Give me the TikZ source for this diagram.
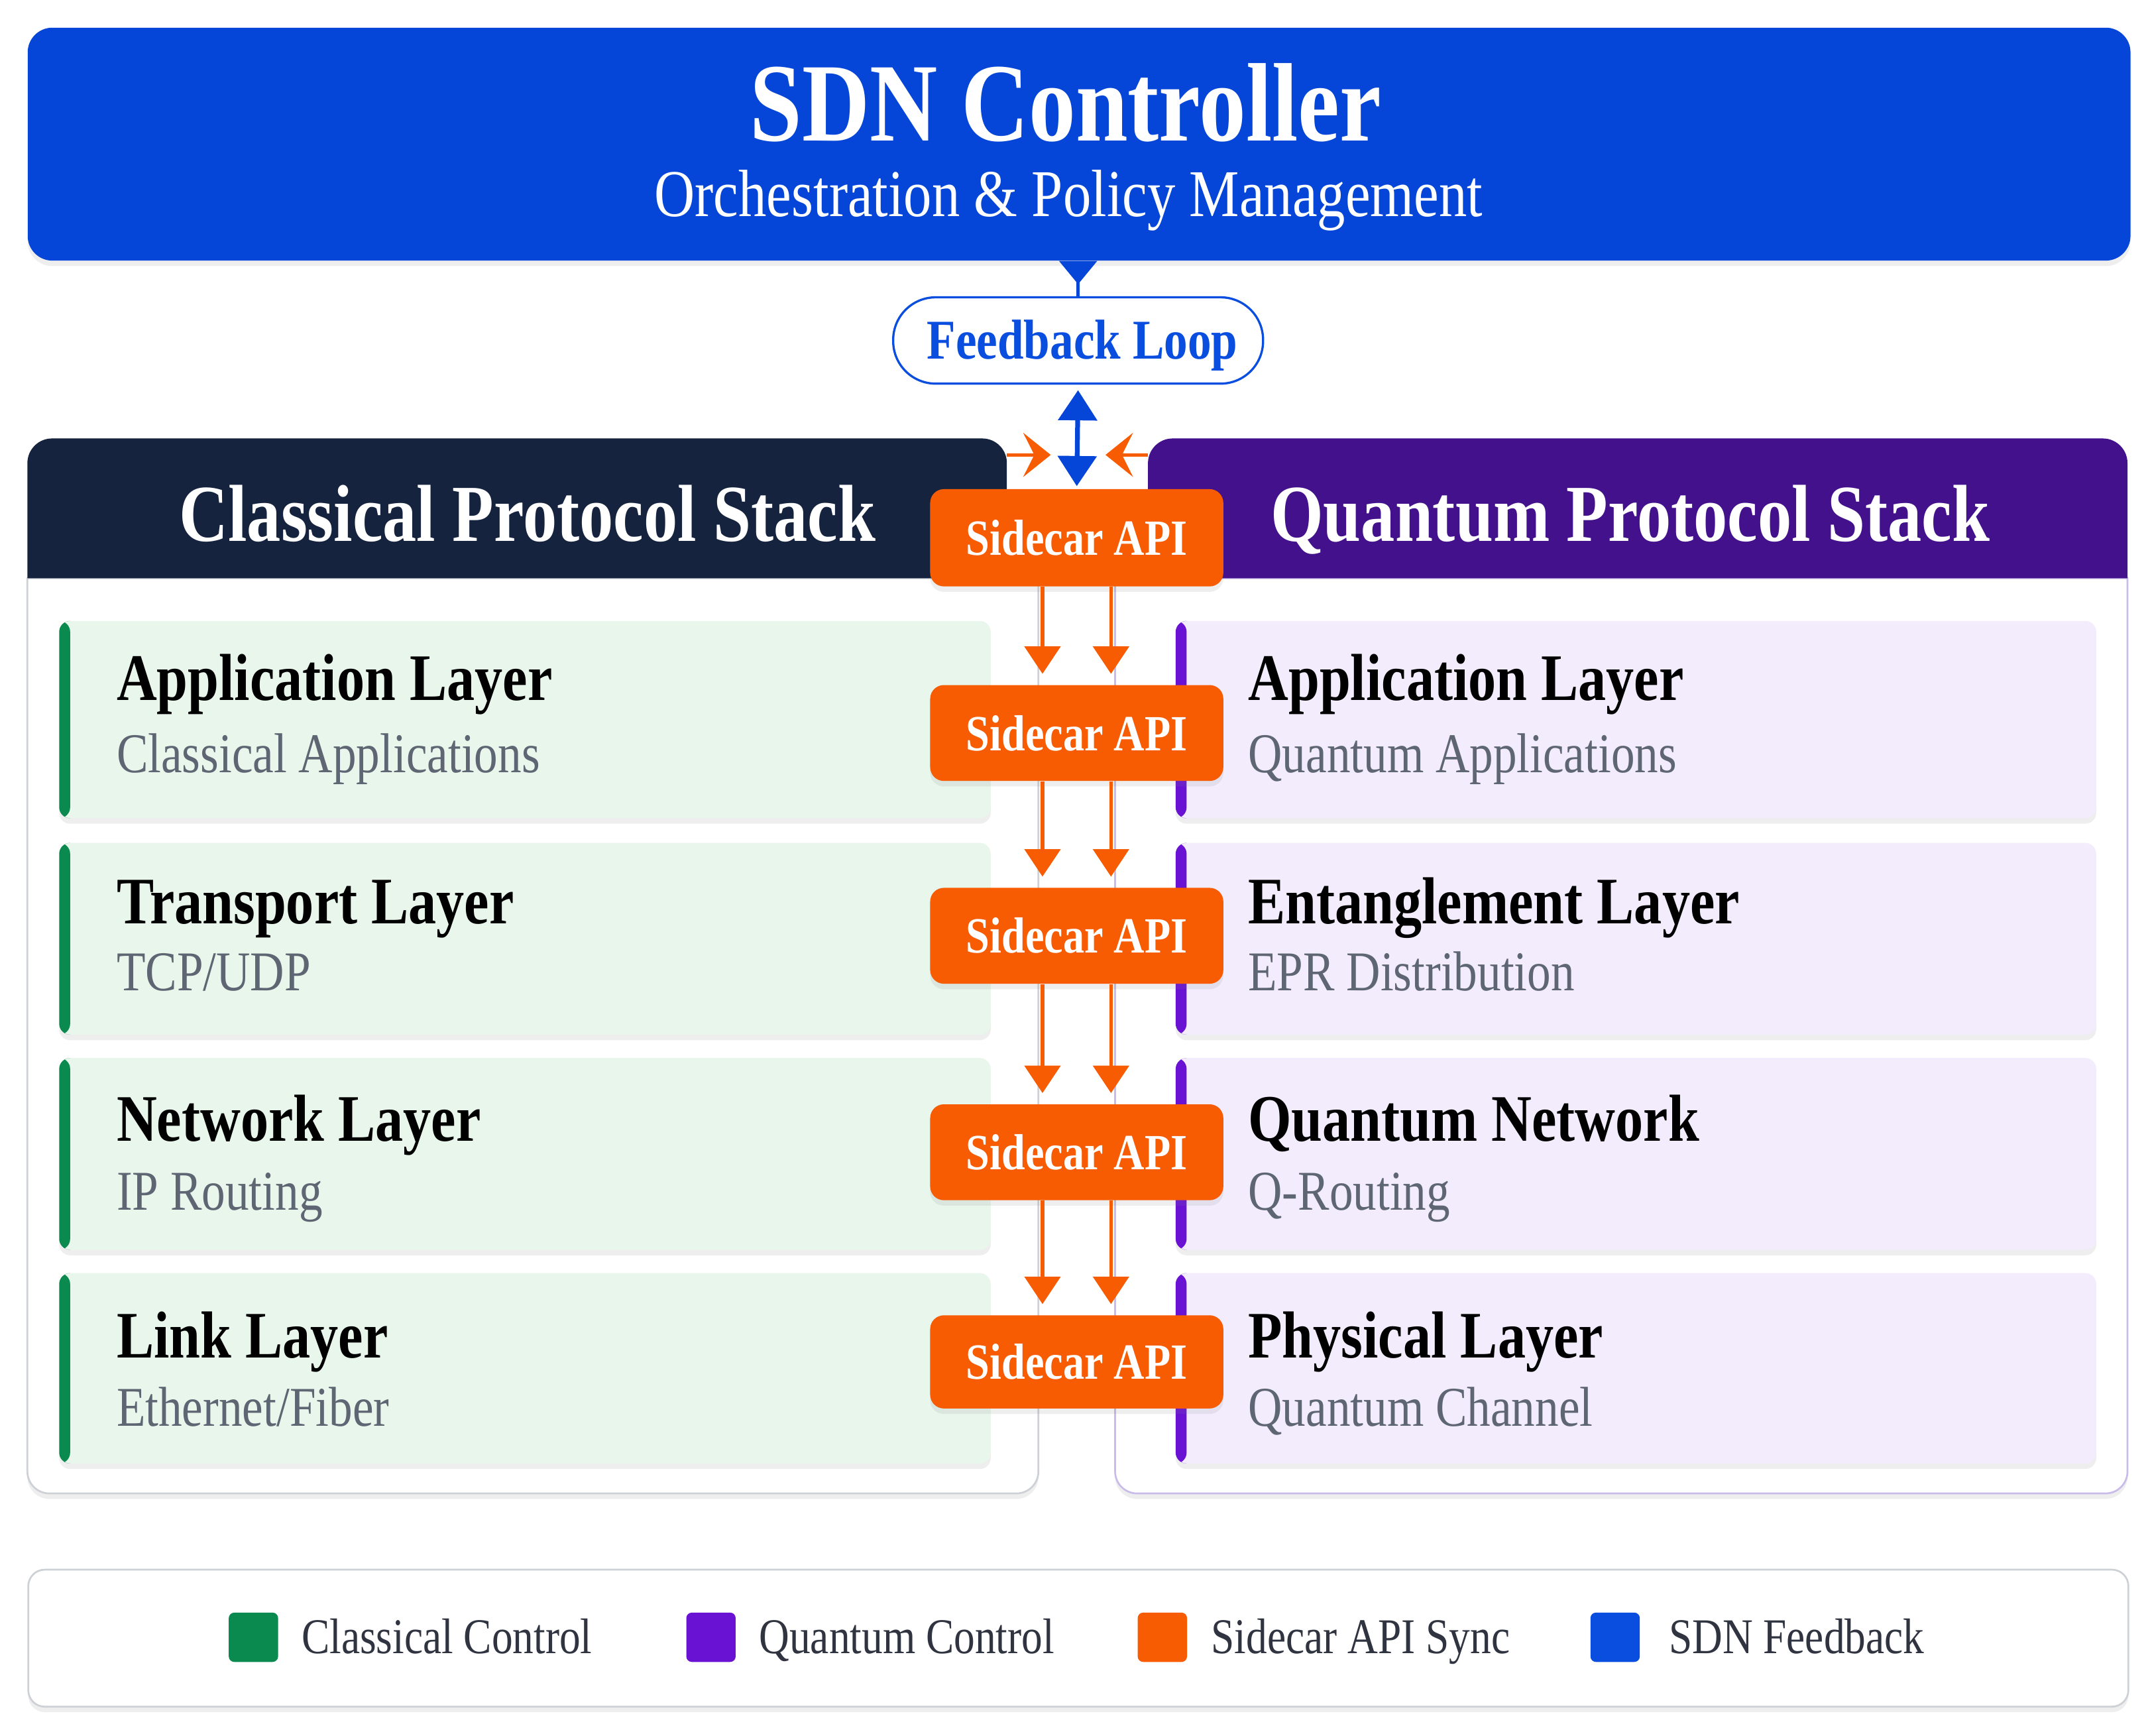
\documentclass[tikz,border=0pt]{standalone}
\usepackage{fontspec}
\setmainfont[FakeStretch=0.84]{Liberation Serif}
\usetikzlibrary{arrows.meta,shadows}
\definecolor{sdnblue}{HTML}{0546D8}
\definecolor{navyhead}{HTML}{15233F}
\definecolor{purphead}{HTML}{43118C}
\definecolor{sideor}{HTML}{F75C03}
\definecolor{cgreen}{HTML}{0B8A50}
\definecolor{qpurple}{HTML}{6A12D4}
\definecolor{fbblue}{HTML}{0A4EE0}
\definecolor{lgreen}{HTML}{E9F6EC}
\definecolor{lpurple}{HTML}{F2ECFC}
\definecolor{subgray}{HTML}{5F6673}
\definecolor{cborder}{HTML}{CDD1D6}
\definecolor{qborder}{HTML}{C9BBEA}
\definecolor{legtext}{HTML}{2F3440}
\tikzset{
  softshadow/.style={drop shadow={opacity=0.13,shadow xshift=0pt,shadow yshift=-4pt}},
  sdnbox/.style={fill=sdnblue,rounded corners=18pt,softshadow,inner sep=0pt},
  pill/.style={draw=fbblue,line width=1.6pt,fill=white,rounded corners=31pt,
    minimum width=270pt,minimum height=63pt,inner sep=0pt},
  pilltext/.style={anchor=base,inner sep=0pt,text=fbblue,font=\bfseries\fontsize{41}{48}\selectfont},
  sidecar/.style={fill=sideor,rounded corners=10pt,softshadow,minimum width=214pt,
    minimum height=70pt,inner sep=0pt,text=white,font=\bfseries\fontsize{37}{44}\selectfont},
  cbox/.style={fill=lgreen,rounded corners=8pt,minimum width=680pt,inner sep=0pt,
    softshadow,anchor=north west,
    path picture={\fill[cgreen] (path picture bounding box.north west) rectangle
      ([xshift=8pt]path picture bounding box.south west);}},
  qbox/.style={fill=lpurple,rounded corners=8pt,minimum width=672pt,inner sep=0pt,
    softshadow,anchor=north west,
    path picture={\fill[qpurple] (path picture bounding box.north west) rectangle
      ([xshift=8pt]path picture bounding box.south west);}},
  ltitle/.style={anchor=base west,inner sep=0pt,text=black,font=\bfseries\fontsize{48.5}{58}\selectfont},
  lsub/.style={anchor=base west,inner sep=0pt,text=subgray,font=\fontsize{41}{49}\selectfont},
  htitle/.style={anchor=base,inner sep=0pt,text=white,font=\bfseries\fontsize{59}{70}\selectfont},
  oarrow/.style={draw=sideor,line width=2.6pt,-{Triangle[width=26pt,length=20pt]}},
  oside/.style={draw=sideor,line width=2.6pt,-{Stealth[width=32pt,length=20pt,inset=8pt]}},
  barrow/.style={draw=sdnblue,line width=3.5pt,{Triangle[width=28pt,length=22pt]}-{Triangle[width=28pt,length=22pt]}},
  swatch/.style={rounded corners=4pt,minimum width=36pt,minimum height=36pt,inner sep=0pt},
  legtxt/.style={anchor=base west,inner sep=0pt,text=legtext,font=\fontsize{36.5}{44}\selectfont},
}
\begin{document}
\begin{tikzpicture}[x=1pt,y=-1pt]
\useasboundingbox[fill=white] (0,0) rectangle (1568,1267);

% SDN controller
\node[sdnbox,anchor=north west,minimum width=1535pt,minimum height=170pt] (sdn) at (20,20) {};
\node[anchor=base,inner sep=0pt,text=white,font=\bfseries\fontsize{81.5}{96}\selectfont] (sdnt) at (778,103) {SDN Controller};
\node[anchor=base,inner sep=0pt,text=white,font=\fontsize{48.8}{58}\selectfont] (sdns) at (780,158) {Orchestration \& Policy Management};

% feedback loop
\node[pill] (fb) at (787,248.5) {};
\node[pilltext] (fbt) at (790,262) {Feedback Loop};
\draw[sdnblue,line width=2.6pt] (fb.north) -- (fb.north |- sdn.south);
\fill[sdnblue] ([xshift=-14pt]fb.north |- sdn.south) -- ([xshift=14pt]fb.north |- sdn.south) -- ([yshift=-17pt]fb.north |- sdn.south) -- cycle;

% containers
\filldraw[fill=white,draw=cborder,line width=1.3pt,softshadow]
  (20,422) [rounded corners=16pt] -- (20,1090) -- (758,1090) [sharp corners] -- (758,422) -- cycle;
\filldraw[fill=white,draw=qborder,line width=1.3pt,softshadow]
  (814,422) [rounded corners=16pt] -- (814,1090) -- (1553,1090) [sharp corners] -- (1553,422) -- cycle;
\fill[navyhead] (20,422) [rounded corners=18pt] -- (20,320) -- (735,320) [sharp corners] -- (735,422) -- cycle;
\fill[purphead] (838,422) [rounded corners=18pt] -- (838,320) -- (1553,320) [sharp corners] -- (1553,422) -- cycle;
\node[htitle] (clt) at (385,395) {Classical Protocol Stack};
\node[htitle] (qt) at (1190,395) {Quantum Protocol Stack};
\coordinate (clhe) at (735,332);
\coordinate (qhe) at (838,332);
\coordinate (lt) at (767,332);
\coordinate (rt) at (807,332);

% classical layers
\node[cbox,minimum height=144pt] (c1) at (43,453) {};
\node[cbox,minimum height=140pt] (c2) at (43,615) {};
\node[cbox,minimum height=140pt] (c3) at (43,772) {};
\node[cbox,minimum height=139pt] (c4) at (43,929) {};
\node[ltitle] (c1t) at (85,511) {Application Layer};
\node[lsub]   (c1s) at (85,564) {Classical Applications};
\node[ltitle] (c2t) at (85,674) {Transport Layer};
\node[lsub]   (c2s) at (85,723) {TCP/UDP};
\node[ltitle] (c3t) at (85,833) {Network Layer};
\node[lsub]   (c3s) at (85,883) {IP Routing};
\node[ltitle] (c4t) at (85,991) {Link Layer};
\node[lsub]   (c4s) at (85,1041) {Ethernet/Fiber};

% quantum layers
\node[qbox,minimum height=144pt] (q1) at (858,453) {};
\node[qbox,minimum height=140pt] (q2) at (858,615) {};
\node[qbox,minimum height=140pt] (q3) at (858,772) {};
\node[qbox,minimum height=139pt] (q4) at (858,929) {};
\node[ltitle] (q1t) at (911,511) {Application Layer};
\node[lsub]   (q1s) at (911,564) {Quantum Applications};
\node[ltitle] (q2t) at (911,674) {Entanglement Layer};
\node[lsub]   (q2s) at (911,723) {EPR Distribution};
\node[ltitle] (q3t) at (911,833) {Quantum Network};
\node[lsub]   (q3s) at (911,883) {Q-Routing};
\node[ltitle] (q4t) at (911,991) {Physical Layer};
\node[lsub]   (q4s) at (911,1041) {Quantum Channel};

% sidecars
\node[sidecar,minimum height=71pt] (sc1) at (786,392.5) {Sidecar API};
\node[sidecar] (sc2) at (786,535) {Sidecar API};
\node[sidecar] (sc3) at (786,683) {Sidecar API};
\node[sidecar] (sc4) at (786,841) {Sidecar API};
\node[sidecar,minimum height=68pt] (sc5) at (786,994) {Sidecar API};

% arrows
\coordinate (xl) at (761,0);
\coordinate (xr) at (811,0);
\foreach \a/\b in {sc1/sc2,sc2/sc3,sc3/sc4,sc4/sc5}{
  \draw[oarrow,shorten >=8pt] (\a.south -| xl) -- (\b.north -| xl);
  \draw[oarrow,shorten >=8pt] (\a.south -| xr) -- (\b.north -| xr);
}
\draw[oside] (clhe) -- (lt);
\draw[oside] (qhe) -- (rt);
\draw[barrow,shorten <=4pt,shorten >=2pt] (fb.south) -- (sc1.north);

% legend
\node[anchor=north west,draw=cborder,line width=1.3pt,fill=white,rounded corners=12pt,
  softshadow,minimum width=1533pt,minimum height=100pt,inner sep=0pt] (leg) at (20,1145) {};
\node[swatch,fill=cgreen] (s1) at (185,1195) {};
\node[legtxt] (l1) at (220,1207) {Classical Control};
\node[swatch,fill=qpurple] (s2) at (519,1195) {};
\node[legtxt] (l2) at (554,1207) {Quantum Control};
\node[swatch,fill=sideor] (s3) at (848.5,1195) {};
\node[legtxt] (l3) at (884,1207) {Sidecar API Sync};
\node[swatch,fill=fbblue] (s4) at (1179,1195) {};
\node[legtxt] (l4) at (1218,1207) {SDN Feedback};
\end{tikzpicture}
\end{document}
